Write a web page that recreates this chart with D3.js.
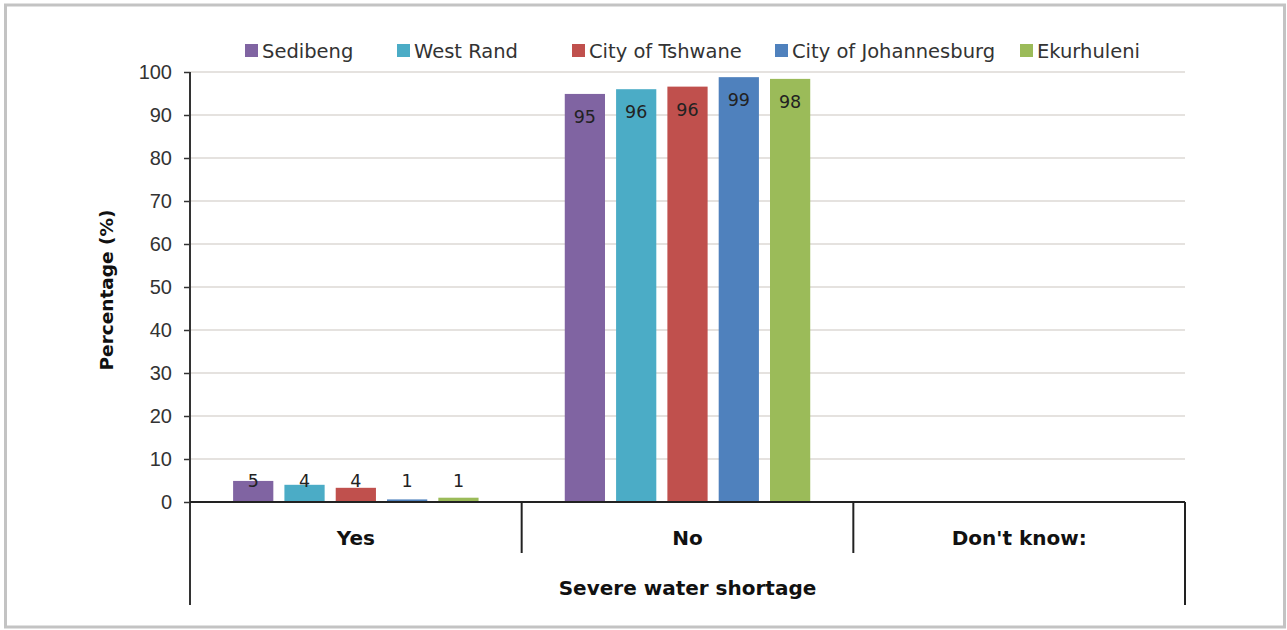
<!DOCTYPE html>
<html>
<head>
<meta charset="utf-8">
<script src="https://cdn.jsdelivr.net/npm/d3@7"></script>
<style>
  body { margin: 0; background: #fff; }
  svg { display: block; font-family: "DejaVu Sans", "Liberation Sans", Arial, sans-serif; }
  .tick-lbl { font-size: 20px; fill: #333; }
  .bar-lbl { font-size: 17.5px; fill: #222; }
  .leg-lbl { font-size: 19.5px; fill: #333; }
  .cat-lbl { font-size: 20px; font-weight: bold; fill: #111; }
  .axis-title { font-size: 20px; font-weight: bold; fill: #111; }
</style>
</head>
<body>
<div id="chart"></div>
<script>
// Severe water shortage, by municipality (percent of respondents)
const categories = ["Yes", "No", "Don't know:"];
const seriesNames = ["Sedibeng", "West Rand", "City of Tshwane", "City of Johannesburg", "Ekurhuleni"];
const sedibeng = [4.9, 94.9, 0];
const westRand = [4.0, 96.0, 0];
const tshwane = [3.3, 96.6, 0];
const johannesburg = [0.6, 98.8, 0];
const ekurhuleni = [1.0, 98.4, 0];
const barLabels = [["5", "4", "4", "1", "1"], ["95", "96", "96", "99", "98"], null];
const yTicks = [0, 10, 20, 30, 40, 50, 60, 70, 80, 90, 100];
const COLORS = ["#8064a2", "#4bacc6", "#c0504d", "#4f81bd", "#9bbb59"];

const seriesValues = [sedibeng, westRand, tshwane, johannesburg, ekurhuleni];
const W = 1287, H = 630;
const plot = { left: 190, right: 1185, top: 72, bottom: 502 };

const svg = d3.select("#chart").append("svg").attr("width", W).attr("height", H);

// outer frame
svg.append("rect").attr("x", 5.5).attr("y", 5).attr("width", 1279).attr("height", 622)
  .attr("fill", "none").attr("stroke", "#c3c3c3").attr("stroke-width", 3);

const x0 = d3.scaleBand(categories, [plot.left, plot.right]).padding(0);
const x1 = d3.scaleBand(d3.range(seriesNames.length), [0, x0.bandwidth()])
  .paddingInner(0.216).paddingOuter(0.84);
const y = d3.scaleLinear([0, 100], [plot.bottom, plot.top]);

// gridlines
svg.append("g").selectAll("line").data(yTicks.slice(1)).join("line")
  .attr("x1", plot.left).attr("x2", plot.right)
  .attr("y1", (d) => y(d)).attr("y2", (d) => y(d))
  .attr("stroke", "#dcd8d4").attr("stroke-width", 1.5);

// y axis
const yAxis = svg.append("g").attr("transform", `translate(${plot.left},0)`)
  .call(d3.axisLeft(y).tickValues(yTicks).tickSize(6).tickPadding(12));
yAxis.select(".domain").remove();
yAxis.selectAll(".tick line").attr("stroke", "#333").attr("stroke-width", 1.5);
yAxis.selectAll(".tick text").attr("class", "tick-lbl").attr("font-family", null).attr("font-size", null);
svg.append("line").attr("x1", plot.left).attr("x2", plot.left)
  .attr("y1", plot.top).attr("y2", 605).attr("stroke", "#333").attr("stroke-width", 2);

// bars
const groups = svg.append("g").selectAll("g").data(categories).join("g")
  .attr("transform", (c) => `translate(${x0(c)},0)`);
groups.each(function (c, ci) {
  const g = d3.select(this);
  const vals = seriesValues.map((s) => s[ci]);
  g.selectAll("rect").data(vals).join("rect")
    .attr("x", (d, i) => x1(i)).attr("width", x1.bandwidth())
    .attr("y", (d) => y(d)).attr("height", (d) => y(0) - y(d))
    .attr("fill", (d, i) => COLORS[i]);
  if (barLabels[ci]) {
    g.selectAll("text").data(vals).join("text").attr("class", "bar-lbl")
      .attr("text-anchor", "middle").attr("dominant-baseline", "central")
      .attr("x", (d, i) => x1(i) + x1.bandwidth() / 2)
      .attr("y", (d) => Math.min(y(d) + 23, y(0) - 21))
      .text((d, i) => barLabels[ci][i]);
  }
});

// baseline and category separators
svg.append("line").attr("x1", plot.left).attr("x2", plot.right)
  .attr("y1", plot.bottom).attr("y2", plot.bottom).attr("stroke", "#222").attr("stroke-width", 2);
categories.slice(1).forEach((c) => {
  svg.append("line").attr("x1", x0(c)).attr("x2", x0(c))
    .attr("y1", plot.bottom).attr("y2", 553).attr("stroke", "#222").attr("stroke-width", 2);
});
svg.append("line").attr("x1", plot.right).attr("x2", plot.right)
  .attr("y1", plot.bottom).attr("y2", 605).attr("stroke", "#222").attr("stroke-width", 2);

svg.append("g").selectAll("text").data(categories).join("text").attr("class", "cat-lbl")
  .attr("text-anchor", "middle").attr("dominant-baseline", "central")
  .attr("x", (c) => x0(c) + x0.bandwidth() / 2).attr("y", 538).text((c) => c);

svg.append("text").attr("class", "axis-title").attr("text-anchor", "middle")
  .attr("dominant-baseline", "central")
  .attr("x", (plot.left + plot.right) / 2).attr("y", 588).text("Severe water shortage");

svg.append("text").attr("class", "axis-title").attr("text-anchor", "middle")
  .attr("dominant-baseline", "central").style("font-size", "18.5px")
  .attr("transform", `translate(106,${(plot.top + plot.bottom) / 2 + 3}) rotate(-90)`)
  .text("Percentage (%)");

// legend
const legX = [245, 397, 572, 775, 1020];
const leg = svg.append("g").selectAll("g").data(seriesNames).join("g")
  .attr("transform", (d, i) => `translate(${legX[i]},51)`);
leg.append("rect").attr("x", 0).attr("y", -7).attr("width", 13).attr("height", 13)
  .attr("fill", (d, i) => COLORS[i]);
leg.append("text").attr("class", "leg-lbl").attr("x", 17).attr("dominant-baseline", "central")
  .text((d) => d);
</script>
</body>
</html>
